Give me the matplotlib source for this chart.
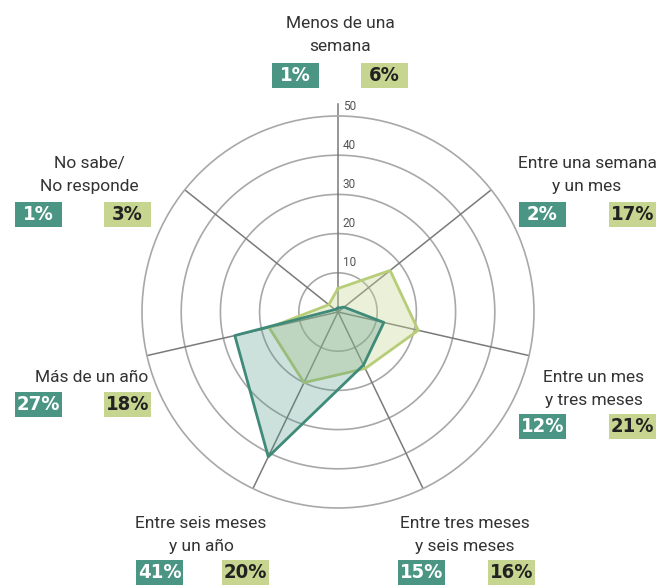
import numpy as np
import matplotlib
matplotlib.use('Agg')
from matplotlib import pyplot as plt
from matplotlib.patches import Rectangle

# Categorías (en el sentido de las agujas del reloj, empezando arriba)
categorias = ['Menos de una\nsemana', 'Entre una semana\ny un mes', 'Entre un mes\ny tres meses',
              'Entre tres meses\ny seis meses', 'Entre seis meses\ny un año', 'Más de un año',
              'No sabe/\nNo responde']

# Serie 1 (verde azulado) y serie 2 (verde claro), en %
serie_1 = [1, 2, 12, 15, 41, 27, 1]
serie_2 = [6, 17, 21, 16, 20, 18, 3]

ticks_radiales = [10, 20, 30, 40, 50]

color_1 = '#4a9584'
color_1_linea = '#3f8a79'
color_2 = '#c6d690'
color_2_linea = '#b7cd78'

W, H = 660, 585
fig = plt.figure(figsize=(W / 100, H / 100), dpi=100)

# centro del radar y radio en píxeles
cx, cy, rad = 338, 312, 196
ax = fig.add_axes([(cx - rad) / W, (H - cy - rad) / H, 2 * rad / W, 2 * rad / H], projection='polar')
ax.set_theta_zero_location('N')
ax.set_theta_direction(-1)
ax.set_ylim(0, 50)

n = len(categorias)
angulos = np.linspace(0, 2 * np.pi, n, endpoint=False)
ang_cerrado = np.append(angulos, angulos[0])

# Anillos y radios
ax.grid(False)
ax.set_xticks([])
ax.set_yticks([])
ax.spines['polar'].set_color('#a8a8a8')
ax.spines['polar'].set_linewidth(1.2)
t = np.linspace(0, 2 * np.pi, 400)
for r in ticks_radiales[:-1]:
    ax.plot(t, np.full_like(t, r), color='#a8a8a8', lw=1.2, zorder=1)
for a in angulos[1:]:
    ax.plot([a, a], [0, 50], color='#7a7a7a', lw=1.1, zorder=1)
ax.plot([0, 0], [0, 53], color='#7a7a7a', lw=1.1, zorder=1, clip_on=False)

for r in ticks_radiales:
    ax.annotate(str(r), xy=(0, r), xytext=(3.5, 2.5), textcoords='offset points',
                ha='left', va='bottom', fontsize=8.5, color='#555555', family='Roboto',
                annotation_clip=False)

# Series
v2 = np.append(serie_2, serie_2[0])
v1 = np.append(serie_1, serie_1[0])
ax.fill(ang_cerrado, v2, color=color_2, alpha=0.35, zorder=2, lw=0)
ax.plot(ang_cerrado, v2, color=color_2_linea, lw=2, zorder=3)
ax.fill(ang_cerrado, v1, color=color_1, alpha=0.28, zorder=4, lw=0)
ax.plot(ang_cerrado, v1, color=color_1_linea, lw=2, zorder=5)

# Etiquetas: centro del texto (px), y posición izquierda de cada caja (px)
pos_texto = [(340, 35), (587, 175), (594, 389), (465, 535), (201, 535), (92, 377), (89, 175)]
pos_cajas = [(272, 361, 63), (519, 609, 202), (519, 609, 414), (398, 488, 560),
             (136, 222, 560), (15, 104, 392), (15, 104, 202)]
bw, bh = 47, 25


def fx(x):
    return x / W


def fy(y):
    return 1 - y / H


for cat, (tx, ty), (x1, x2, yb), a, b in zip(categorias, pos_texto, pos_cajas, serie_1, serie_2):
    fig.text(fx(tx), fy(ty), cat, ha='center', va='center', fontsize=12.5, color='#333333',
             family='Roboto', linespacing=1.65)
    for x0, val, fc, tc in [(x1, a, color_1, 'white'), (x2, b, color_2, '#222222')]:
        fig.patches.append(Rectangle((fx(x0), fy(yb + bh)), bw / W, bh / H,
                                     transform=fig.transFigure, facecolor=fc, edgecolor='none'))
        fig.text(fx(x0 + bw / 2), fy(yb + bh / 2), f'{val}%', ha='center', va='center',
                 fontsize=14.5, fontweight='bold', color=tc, family='DejaVu Sans',
                 fontstretch='condensed')

fig.savefig('out.png', dpi=100)
